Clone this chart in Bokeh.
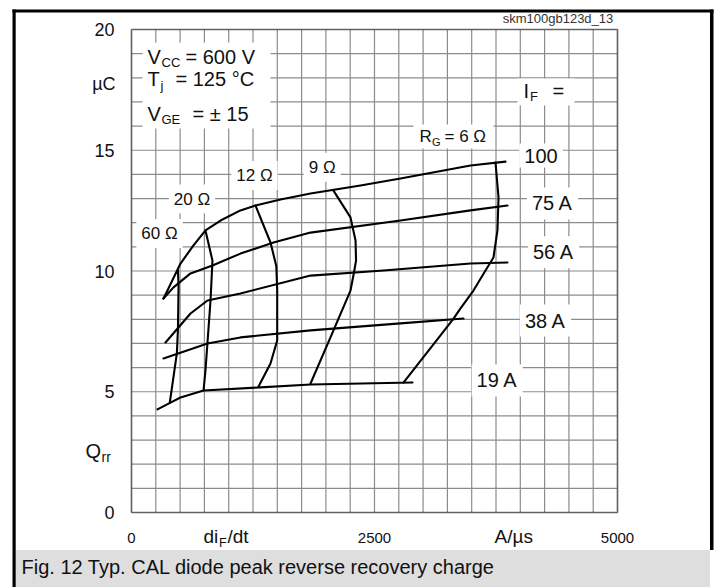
from bokeh.plotting import figure
from bokeh.models import Range1d, Label, BoxAnnotation
from bokeh.core.properties import value
from bokeh.embed import file_html
from bokeh.resources import INLINE

# ---------------- data ----------------
# I_F curves: di_F/dt (A/us) vs Q_rr (uC)
if_100_x = [329, 370, 504, 638, 761, 916, 1121, 1276, 1533, 1842, 2356, 2767, 3488, 3848]
if_100_y = [8.86, 9.19, 10.31, 11.06, 11.68, 12.09, 12.51, 12.71, 12.96, 13.21, 13.54, 13.83, 14.37, 14.53]
if_75_x = [329, 432, 607, 833, 1121, 1461, 1842, 2767, 3488, 3868]
if_75_y = [8.86, 9.32, 9.90, 10.23, 10.72, 11.18, 11.59, 12.09, 12.51, 12.71]
if_56_x = [350, 607, 782, 1121, 1842, 2593, 3488, 3868]
if_56_y = [7.04, 8.24, 8.78, 9.07, 9.81, 10.02, 10.31, 10.35]
if_38_x = [329, 782, 1121, 1842, 2767, 3416]
if_38_y = [6.38, 7.00, 7.25, 7.54, 7.83, 8.03]
if_19_x = [267, 381, 504, 741, 1327, 1842, 2891]
if_19_y = [4.27, 4.51, 4.76, 5.05, 5.18, 5.30, 5.38]

# R_G curves
rg_60_x = [478, 484, 478, 467, 394]
rg_60_y = [10.02, 9.33, 7.60, 6.60, 4.55]
rg_20_x = [761, 833, 813, 761, 741]
rg_20_y = [11.68, 10.43, 8.78, 5.88, 5.05]
rg_12_x = [1276, 1430, 1490, 1499, 1499, 1430, 1307]
rg_12_y = [12.71, 11.18, 10.20, 9.20, 7.12, 6.17, 5.22]
rg_9_x = [2078, 2253, 2305, 2310, 2289, 2253, 2078, 1842]
rg_9_y = [13.33, 12.22, 11.26, 10.43, 9.94, 9.19, 7.54, 5.34]
rg_6_x = [3745, 3776, 3765, 3724, 3642, 3518, 3385, 3313, 3179, 2798]
rg_6_y = [14.49, 13.04, 11.68, 10.56, 10.02, 9.19, 8.45, 8.03, 7.33, 5.38]

# axes
x_min, x_max = 0, 5000
y_min, y_max = 0, 20
x_ticks = [0, 2500, 5000]
x_tick_labels = ["0", "2500", "5000"]
y_ticks = [0, 5, 10, 15, 20]
y_tick_labels = ["0", "5", "10", "15", "20"]
x_grid = list(range(0, 5001, 250))
y_grid = list(range(0, 21, 1))

FONT = "Liberation Sans"
W, H = 716, 587
# plot area in canvas pixels
PL, PR, PT, PB = 131, 617, 29, 512


def X(px):
    return x_min + (px - PL) * (x_max - x_min) / (PR - PL)


def Y(py):
    return y_min + (PB - py) * (y_max - y_min) / (PB - PT)


p = figure(width=W, height=H, output_backend="svg", toolbar_location=None,
           x_range=Range1d(X(0), X(W)), y_range=Range1d(Y(H), Y(0)),
           min_border=0, min_border_left=0, min_border_right=0,
           min_border_top=0, min_border_bottom=0)
p.xaxis.visible = False
p.yaxis.visible = False
p.xgrid.visible = False
p.ygrid.visible = False
p.outline_line_color = None
p.background_fill_color = "white"
p.border_fill_color = "white"


def band(l, r, t, b, color):
    p.add_layout(BoxAnnotation(left=X(l), right=X(r), top=Y(t), bottom=Y(b),
                               fill_color=color, fill_alpha=1, line_color=None))


# ---------- page decoration: outer frame and caption band ----------
band(15, 709.5, 549.5, H + 5, "#dedede")   # caption band
band(12, 713, 9, 12, "black")              # top edge
band(12, 15.2, 9, H + 5, "black")          # left edge
band(709.5, 713, 9, 549.5, "black")        # right edge

# ---------------- grid ----------------
p.segment(x0=x_grid, y0=[y_min] * len(x_grid), x1=x_grid, y1=[y_max] * len(x_grid),
          line_color="#8c8c8c", line_width=1.2)
p.segment(x0=[x_min] * len(y_grid), y0=y_grid, x1=[x_max] * len(y_grid), y1=y_grid,
          line_color="#8c8c8c", line_width=1.2)

# white patches behind the condition text blocks
for l, r, t, b in [(113, 1430, 19.46, 15.90), (3971, 4558, 17.97, 16.85), (2901, 3724, 16.07, 15.07)]:
    p.add_layout(BoxAnnotation(left=l, right=r, top=t, bottom=b, fill_color="white",
                               fill_alpha=1, line_color=None))

# plot area outline
p.add_layout(BoxAnnotation(left=x_min, right=x_max, top=y_max, bottom=y_min,
                           fill_color=None, line_color="black", line_width=2))

# ---------------- curves ----------------
for xs, ys in [(if_100_x, if_100_y), (if_75_x, if_75_y), (if_56_x, if_56_y),
               (if_38_x, if_38_y), (if_19_x, if_19_y),
               (rg_60_x, rg_60_y), (rg_20_x, rg_20_y), (rg_12_x, rg_12_y),
               (rg_9_x, rg_9_y), (rg_6_x, rg_6_y)]:
    p.line(xs, ys, line_color="black", line_width=2.1, line_join="round", line_cap="round")

# ---------------- tick labels ----------------
p.text(x=[X(114)] * len(y_ticks), y=y_ticks, text=y_tick_labels,
       text_font=value(FONT), text_font_size="18px", text_align="right",
       text_baseline="middle", text_color="#111111")
p.text(x=x_ticks, y=[Y(537.5)] * len(x_ticks), text=x_tick_labels,
       text_font=value(FONT), text_font_size="15px", text_align="center",
       text_baseline="middle", text_color="#111111")


def lab(text, x, y, size, align="left", bg=None, color="#111111", pad=0):
    kw = {}
    if bg is not None:
        kw = dict(background_fill_color=bg, background_fill_alpha=1, padding=pad)
    p.add_layout(Label(x=x, y=y, text=text, text_font=FONT, text_font_size=f"{size}px",
                       text_align=align, text_baseline="middle", text_color=color, **kw))


# condition block
lab("V", X(147), Y(56), 20)
lab("CC", X(161), Y(61.5), 13)
lab("= 600 V", X(185), Y(56), 20)
lab("T", X(147), Y(78), 20)
lab("j", X(160), Y(84.5), 13)
lab("= 125 °C", X(175), Y(78), 20)
lab("V", X(147), Y(113), 20)
lab("GE", X(161), Y(118.5), 13)
lab("= ± 15", X(192), Y(113), 20)

# I_F and R_G headers
lab("I", X(523), Y(90), 20)
lab("F", X(529.5), Y(95.5), 13)
lab("=", X(552), Y(90), 20)
lab("R", X(419), Y(136), 17)
lab("G", X(431.5), Y(141), 11)
lab("= 6 Ω", X(444), Y(136), 17)

# curve labels
for t, x, y, s in [("12 Ω", 1265, 13.95, 17), ("20 Ω", 622, 12.98, 17), ("60 Ω", 288, 11.55, 17),
                   ("9 Ω", 1962, 14.30, 17), ("100", 4213, 14.78, 20), ("75 A", 4331, 12.80, 20),
                   ("56 A", 4342, 10.78, 20), ("38 A", 4259, 7.95, 20), ("19 A", 3762, 5.47, 20)]:
    lab(t, x, y, s, align="center", bg="white", pad=5)

# axis titles
lab("µC", X(115), Y(83.7), 18, align="right")
lab("Q", X(85), Y(450), 20)
lab("rr", X(101), Y(456), 14)
lab("di", X(203), Y(536.4), 19)
lab("F", X(218.5), Y(542.6), 12.5)
lab("/dt", X(227), Y(536.4), 19)
lab("A/µs", X(494), Y(536.4), 19)

# watermark and caption
lab("skm100gb123d_13", X(557.5), Y(18), 13, align="center", color="#333333")
lab("Fig. 12 Typ. CAL diode peak reverse recovery charge", X(21), Y(566), 20)

open("out.html", "w").write(file_html(p, INLINE))
